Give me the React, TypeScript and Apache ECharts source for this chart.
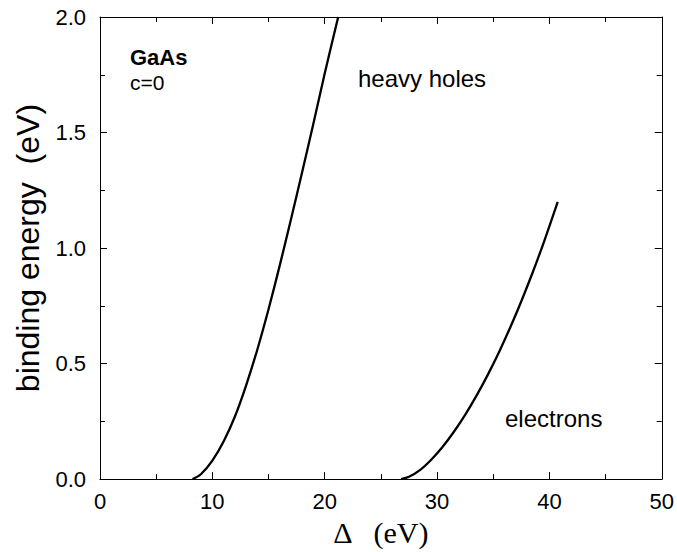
import React, { useEffect, useRef } from "react";
import * as echarts from "echarts";

// heavy holes: [Δ (eV), binding energy (eV)]
const holesDelta = [8.24, 9.0, 10.0, 11.0, 12.0, 13.0, 14.0, 15.0, 16.0, 17.0, 18.0, 19.0, 20.0, 21.2];
const holesEnergy = [0.0, 0.022, 0.08, 0.163, 0.27, 0.405, 0.56, 0.735, 0.925, 1.125, 1.33, 1.54, 1.755, 2.0];

// electrons
const elecDelta = [26.8, 27.5, 28.5, 29.5, 30.5, 31.5, 32.5, 33.5, 34.5, 35.5, 36.5, 37.5, 38.5, 39.5, 40.74];
const elecEnergy = [0.0, 0.01, 0.04, 0.085, 0.14, 0.205, 0.278, 0.36, 0.45, 0.548, 0.655, 0.77, 0.893, 1.025, 1.2];

const xTicks = [0, 10, 20, 30, 40, 50];
const yTicks = [0.0, 0.5, 1.0, 1.5, 2.0];

const SANS = "'Liberation Sans', Arial, Helvetica, sans-serif";
const SERIF = "'Liberation Serif', 'Times New Roman', serif";

export default function App() {
  const ref = useRef<HTMLDivElement>(null);
  useEffect(() => {
    if (!ref.current) return;
    const chart = echarts.init(ref.current, null, { renderer: "svg" });
    const holes = holesDelta.map((x, i) => [x, holesEnergy[i]]);
    const elec = elecDelta.map((x, i) => [x, elecEnergy[i]]);
    const axisCommon = {
      axisLine: { show: true, onZero: false, lineStyle: { color: "#000", width: 1 } },
      axisTick: { show: true, inside: true, length: 7, lineStyle: { color: "#000", width: 1 } },
      minorTick: { show: true, splitNumber: 2, length: 5, lineStyle: { color: "#000", width: 1 } },
      splitLine: { show: false },
    };
    chart.setOption({
      animation: false,
      backgroundColor: "#fff",
      grid: { left: 100, top: 17, right: 14, bottom: 67, containLabel: false },
      xAxis: [
        {
          type: "value",
          min: xTicks[0],
          max: xTicks[xTicks.length - 1],
          interval: 10,
          position: "bottom",
          ...axisCommon,
          axisLabel: { color: "#000", fontFamily: SANS, fontSize: 22, margin: 11 },
          name: "Δ   (eV)",
          nameLocation: "middle",
          nameGap: 20,
          nameTextStyle: { color: "#000", fontFamily: SERIF, fontSize: 30, verticalAlign: "top" },
        },
        {
          type: "value",
          min: xTicks[0],
          max: xTicks[xTicks.length - 1],
          interval: 10,
          position: "top",
          ...axisCommon,
          axisLabel: { show: false },
        },
      ],
      yAxis: [
        {
          type: "value",
          min: yTicks[0],
          max: yTicks[yTicks.length - 1],
          interval: 0.5,
          position: "left",
          ...axisCommon,
          axisLabel: {
            color: "#000",
            fontFamily: SANS,
            fontSize: 22,
            margin: 14,
            formatter: (v: number) => v.toFixed(1),
          },
          name: "binding energy  (eV)",
          nameLocation: "middle",
          nameGap: 56,
          nameTextStyle: { color: "#000", fontFamily: SANS, fontSize: 32 },
        },
        {
          type: "value",
          min: yTicks[0],
          max: yTicks[yTicks.length - 1],
          interval: 0.5,
          position: "right",
          ...axisCommon,
          axisLabel: { show: false },
        },
      ],
      graphic: [
        {
          type: "text",
          left: 130,
          top: 46,
          style: { text: "GaAs", fill: "#000", font: `bold 22px ${SANS}` },
        },
        {
          type: "text",
          left: 130,
          top: 72,
          style: { text: "c=0", fill: "#000", font: `21px ${SANS}` },
        },
        {
          type: "text",
          left: 358,
          top: 66,
          style: { text: "heavy holes", fill: "#000", font: `24px ${SANS}` },
        },
        {
          type: "text",
          left: 505,
          top: 406,
          style: { text: "electrons", fill: "#000", font: `24px ${SANS}` },
        },
      ],
      series: [
        {
          name: "heavy holes",
          type: "line",
          data: holes,
          showSymbol: false,
          smooth: 0.3,
          clip: true,
          lineStyle: { color: "#000", width: 2.3 },
        },
        {
          name: "electrons",
          type: "line",
          data: elec,
          showSymbol: false,
          smooth: 0.3,
          clip: true,
          lineStyle: { color: "#000", width: 2.3 },
        },
      ],
    });
    return () => chart.dispose();
  }, []);
  return <div ref={ref} style={{ width: 677, height: 552, position: "absolute", left: 0, top: 0 }} />;
}
